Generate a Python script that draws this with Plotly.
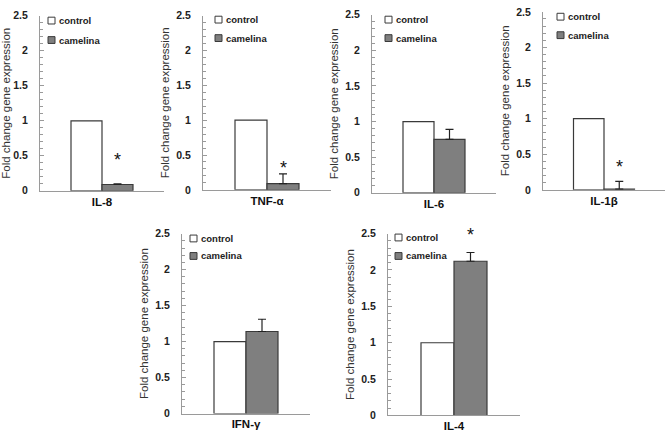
import plotly.graph_objects as go

W, H = 667, 439

# ---------------- data ----------------
cytokines = ["IL-8", "TNF-α", "IL-6", "IL-1β", "IFN-γ", "IL-4"]
control_values = [1.0, 1.0, 1.0, 1.0, 1.0, 1.0]
camelina_values = [0.09, 0.09, 0.75, 0.01, 1.14, 2.12]
camelina_errors = [0.01, 0.14, 0.14, 0.11, 0.17, 0.12]
significant = [True, True, False, True, False, True]
star_levels = [0.44, 0.31, None, 0.32, None, 2.48]
series_names = ["control", "camelina"]
y_ticks = [0, 0.5, 1, 1.5, 2, 2.5]
y_tick_labels = ["0", "0.5", "1", "1.5", "2", "2.5"]
y_title = "Fold change gene expression"

# ---------------- layout (pixels) ----------------
# (x_left, x_right, y_bottom(value 0), y_top(value 2.5))
panels = [
    (40, 164, 190, 10),
    (203, 331, 189, 10),
    (372, 496, 192, 9),
    (543, 665, 189, 6),
    (182, 310, 419, 234),
    (388, 520, 421, 234),
]
# legend key offsets: (dx from axis, y of first row, y of second row)
legend_pos = [
    (8, 15, 35),
    (12, 14, 33),
    (13, 14, 33),
    (14, 11, 30),
    (8, 239, 257),
    (7, 238, 257),
]

AXIS_COLOR = "#9a9a9a"
EDGE = "#3a3a3a"
GRAY = "#7f7f7f"
FONT = "Liberation Sans"


def px(x):
    return x / W


def py(y):
    return 1 - y / H


fig = go.Figure()
layout = dict(
    width=W, height=H, margin=dict(l=0, r=0, t=0, b=0),
    paper_bgcolor="white", plot_bgcolor="white",
    showlegend=False, barmode="group", bargap=0.5, bargroupgap=0,
    shapes=[], annotations=[],
)

for i, name in enumerate(cytokines):
    n = i + 1
    xa = "x" if n == 1 else f"x{n}"
    ya = "y" if n == 1 else f"y{n}"
    xl, xr, yb, yt = panels[i]

    fig.add_trace(go.Bar(
        x=[name], y=[control_values[i]], name=series_names[0],
        marker=dict(color="white", line=dict(color=EDGE, width=1.2)),
        xaxis=xa, yaxis=ya, offsetgroup="a",
    ))
    fig.add_trace(go.Bar(
        x=[name], y=[camelina_values[i]], name=series_names[1],
        marker=dict(color=GRAY, line=dict(color=EDGE, width=1.2)),
        error_y=dict(type="data", array=[camelina_errors[i]], arrayminus=[0],
                     symmetric=False, color="#222222", thickness=1.2, width=4),
        xaxis=xa, yaxis=ya, offsetgroup="b",
    ))

    xkey = "xaxis" if n == 1 else f"xaxis{n}"
    ykey = "yaxis" if n == 1 else f"yaxis{n}"
    layout[xkey] = dict(
        domain=[px(xl), px(xr)], anchor=ya, type="category",
        showline=True, linecolor=AXIS_COLOR, linewidth=1,
        ticks="", showgrid=False, zeroline=False,
        tickfont=dict(family=FONT, size=11.5, color="#111111", weight="bold"),
        ticklabelstandoff=0,
    )
    layout[ykey] = dict(
        domain=[py(yb), py(yt)], anchor=xa, range=[0, 2.5],
        tickvals=y_ticks, ticktext=y_tick_labels,
        showline=True, linecolor=AXIS_COLOR, linewidth=1,
        ticks="inside", ticklen=4, tickcolor=AXIS_COLOR,
        minor=dict(dtick=0.1, ticks="inside", ticklen=3, tickcolor=AXIS_COLOR),
        showgrid=False, zeroline=False,
        tickfont=dict(family=FONT, size=10.5, color="#222222", weight="bold"),
        ticklabelstandoff=9,
        title=dict(text=y_title, standoff=4,
                   font=dict(family=FONT, size=11.5, color="#333333")),
    )

    # significance star
    if significant[i]:
        layout["annotations"].append(dict(
            x=name, y=star_levels[i], xref=xa, yref=ya, text="*",
            showarrow=False, xshift=(xr - xl) * 0.125,
            font=dict(family=FONT, size=18, color="#111111"),
            yanchor="middle",
        ))

    # legend keys
    dx, r1, r2 = legend_pos[i]
    for (fill, label, ry) in [("white", series_names[0], r1), (GRAY, series_names[1], r2)]:
        layout["shapes"].append(dict(
            type="rect", xref="paper", yref="paper",
            x0=px(xl + dx), x1=px(xl + dx + 7), y0=py(ry + 3.5), y1=py(ry - 3.5),
            fillcolor=fill, line=dict(color=EDGE, width=1),
        ))
        layout["annotations"].append(dict(
            x=px(xl + dx + 9), y=py(ry), xref="paper", yref="paper",
            text=label, showarrow=False, xanchor="left", yanchor="middle",
            font=dict(family=FONT, size=9.5, color="#222222", weight="bold"),
        ))

fig.update_layout(**layout)
fig.write_html("out.html", config={"displayModeBar": False},
               post_script="document.body.style.margin='0px';")
